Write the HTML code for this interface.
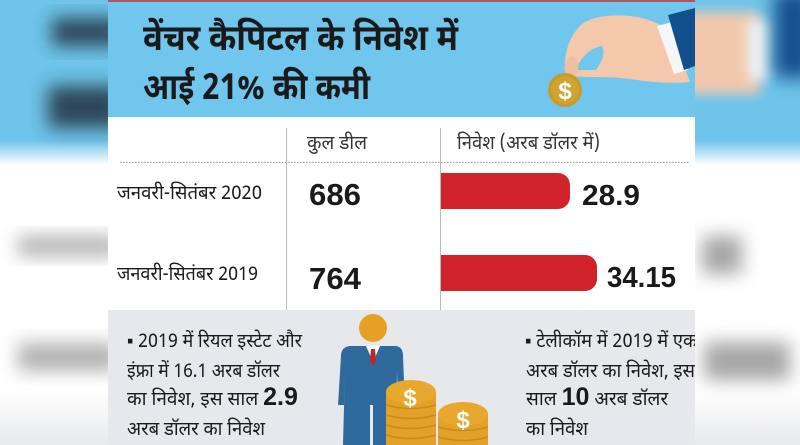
<!DOCTYPE html>
<html><head><meta charset="utf-8">
<style>
html,body{margin:0;padding:0;background:#fff;}
body{width:800px;height:445px;overflow:hidden;position:relative;}
svg{position:absolute;left:0;top:0;}
text{font-family:"Noto Sans Devanagari","Lohit Devanagari","Mukta","Liberation Sans",sans-serif;fill:#1a1a1a;}
</style></head>
<body>
<svg width="800" height="445" viewBox="0 0 800 445">
<defs>
<clipPath id="cp"><rect x="108" y="0" width="587" height="445"/></clipPath>
<clipPath id="cl"><rect x="0" y="0" width="108" height="445"/></clipPath>
<clipPath id="cr"><rect x="695" y="0" width="105" height="445"/></clipPath>
<filter id="bl" x="-50%" y="-50%" width="200%" height="200%"><feGaussianBlur stdDeviation="9"/></filter>
<filter id="bs" x="-50%" y="-50%" width="200%" height="200%"><feGaussianBlur stdDeviation="6"/></filter>
<linearGradient id="gl" x1="0" y1="0" x2="0" y2="1">
<stop offset="0" stop-color="#6ec4ea"/><stop offset="0.315" stop-color="#6ec4ea"/><stop offset="0.37" stop-color="#ffffff"/><stop offset="0.875" stop-color="#ffffff"/><stop offset="1" stop-color="#e8e9eb"/>
</linearGradient>
</defs>

<!-- left blurred side -->
<g clip-path="url(#cl)">
<rect x="0" y="0" width="108" height="445" fill="url(#gl)"/>
<rect x="52" y="18" width="70" height="28" fill="#22323c" opacity="0.85" filter="url(#bl)"/>
<rect x="48" y="86" width="74" height="42" fill="#22323c" opacity="0.85" filter="url(#bl)"/>
<rect x="18" y="236" width="100" height="20" fill="#888" opacity="0.65" filter="url(#bl)"/>
<rect x="18" y="343" width="100" height="28" fill="#888" opacity="0.65" filter="url(#bl)"/>
</g>
<!-- right blurred side -->
<g clip-path="url(#cr)">
<rect x="695" y="0" width="105" height="445" fill="url(#gl)"/>
<rect x="680" y="12" width="80" height="82" fill="#f2c8ac" filter="url(#bs)"/>
<rect x="748" y="20" width="22" height="60" fill="#eef3f6" filter="url(#bs)"/>
<rect x="774" y="-10" width="40" height="88" fill="#124f8e" filter="url(#bl)"/>
<rect x="702" y="236" width="40" height="38" fill="#777" opacity="0.65" filter="url(#bl)"/>
<rect x="704" y="342" width="86" height="38" fill="#777" opacity="0.65" filter="url(#bl)"/>
</g>

<g clip-path="url(#cp)">
<rect x="108" y="0" width="587" height="445" fill="#ffffff"/>
<rect x="108" y="0" width="587" height="117" fill="#70c6ec"/>
<rect x="108" y="0" width="587" height="2" fill="#a85a5e"/>
<rect x="108" y="310" width="587" height="135" fill="#e6e8eb"/>

<!-- hand -->
<path d="M566 74 C562 56 570 32 585 22 C600 14 625 14 642 18 C654 21 662 26 670 28 L690 82 C672 84 650 82 630 79 C610 76 590 78 572 76 Z" fill="#f4c8ab"/>
<path d="M576 70 C580 58 590 48 602 46 C606 56 600 64 596 70 Z" fill="#70c6ec"/>
<path d="M566 74 C562 66 566 58 573 56 C580 60 580 68 575 76 Z" fill="#f0bea0"/>
<polygon points="657,26 672,22 688,70 674,74" fill="#f5f6f8"/>
<polygon points="668,15 695,8 695,66 684,70" fill="#124f8e"/>
<circle cx="565" cy="90" r="17" fill="#c89a2a"/>
<circle cx="565" cy="90" r="14" fill="#d0a430"/>
<text x="565" y="99" text-anchor="middle" font-size="24" font-weight="bold" style="fill:#fff;font-family:'Liberation Sans',sans-serif">$</text>

<!-- title -->
<text x="143" y="50" font-size="36" font-weight="bold" textLength="315" lengthAdjust="spacingAndGlyphs">वेंचर कैपिटल के निवेश में</text>
<text x="143" y="99" font-size="36" font-weight="bold" textLength="227" lengthAdjust="spacingAndGlyphs">आई 21% की कमी</text>

<!-- table -->
<line x1="286.5" y1="128" x2="286.5" y2="310" stroke="#b8b8b8" stroke-width="1"/>
<line x1="440.5" y1="128" x2="440.5" y2="310" stroke="#b8b8b8" stroke-width="1"/>
<line x1="120" y1="162.5" x2="690" y2="162.5" stroke="#9a9a9a" stroke-width="1" stroke-dasharray="1.5,1.5"/>
<text x="307" y="149" font-size="19" textLength="60" lengthAdjust="spacingAndGlyphs" style="fill:#333">कुल डील</text>
<text x="457" y="149" font-size="19" textLength="143" lengthAdjust="spacingAndGlyphs" style="fill:#333">निवेश  (अरब डॉलर में)</text>
<text x="117" y="199" font-size="19" textLength="145" lengthAdjust="spacingAndGlyphs">जनवरी-सितंबर 2020</text>
<text x="117" y="280" font-size="19" textLength="141" lengthAdjust="spacingAndGlyphs">जनवरी-सितंबर 2019</text>
<text x="309" y="205" font-size="31" font-weight="bold" textLength="52" lengthAdjust="spacingAndGlyphs" style="font-family:'Liberation Sans',sans-serif">686</text>
<text x="309" y="289" font-size="31" font-weight="bold" textLength="52" lengthAdjust="spacingAndGlyphs" style="font-family:'Liberation Sans',sans-serif">764</text>
<path d="M441 173 H558 A12 12 0 0 1 570 185 V197 A12 12 0 0 1 558 209 H441 Z" fill="#d1232b"/>
<path d="M441 255 H585 A12 12 0 0 1 597 267 V279 A12 12 0 0 1 585 291 H441 Z" fill="#d1232b"/>
<text x="582" y="205" font-size="29" font-weight="bold" textLength="58" lengthAdjust="spacingAndGlyphs" style="font-family:'Liberation Sans',sans-serif">28.9</text>
<text x="607" y="287" font-size="29" font-weight="bold" textLength="69" lengthAdjust="spacingAndGlyphs" style="font-family:'Liberation Sans',sans-serif">34.15</text>

<!-- person -->
<circle cx="373" cy="328" r="14" fill="#e6a124"/>
<path d="M350 346 L396 346 Q403 347 403 356 L405 405 L398 405 L397 370 L396 445 L343 445 L345 370 L344 405 L338 405 L341 356 Q341 347 350 346 Z" fill="#2e6b9c"/>
<rect x="370" y="405" width="3" height="40" fill="#e6e8eb"/>
<polygon points="366,346 380,346 373,362" fill="#ffffff"/>
<polygon points="371,349 375,349 376,360 373,366 370,360" fill="#c0262d"/>

<!-- coins stack 1 -->
<g>
<rect x="386" y="392" width="50" height="60" fill="#e3a12a"/>
<g stroke="#c98a1c" stroke-width="1.5" fill="none">
<path d="M386 405 Q411 412 436 405"/><path d="M386 415 Q411 422 436 415"/><path d="M386 425 Q411 432 436 425"/><path d="M386 435 Q411 442 436 435"/>
</g>
<ellipse cx="411" cy="392" rx="25" ry="12" fill="#e7a82d"/>
<text x="410" y="406" text-anchor="middle" font-size="24" font-weight="bold" style="fill:#fff;font-family:'Liberation Sans',sans-serif">$</text>
</g>
<!-- coins stack 2 -->
<g>
<rect x="438" y="414" width="50" height="40" fill="#e3a12a"/>
<g stroke="#c98a1c" stroke-width="1.5" fill="none">
<path d="M438 427 Q463 434 488 427"/><path d="M438 437 Q463 444 488 437"/>
</g>
<ellipse cx="463" cy="414" rx="25" ry="12" fill="#e7a82d"/>
<text x="463" y="428" text-anchor="middle" font-size="24" font-weight="bold" style="fill:#fff;font-family:'Liberation Sans',sans-serif">$</text>
</g>

<!-- notes left -->
<text x="127" y="347" font-size="19" textLength="175" lengthAdjust="spacingAndGlyphs">▪ 2019 में रियल इस्टेट और</text>
<text x="127" y="377" font-size="19" textLength="153" lengthAdjust="spacingAndGlyphs">इंफ्रा में 16.1 अरब डॉलर</text>
<text x="127" y="405" font-size="19">का निवेश, इस साल <tspan font-weight="bold" font-size="25" style="font-family:'Liberation Sans',sans-serif">2.9</tspan></text>
<text x="127" y="435" font-size="19" textLength="138" lengthAdjust="spacingAndGlyphs">अरब डॉलर का निवेश</text>

<!-- notes right -->
<text x="525" y="347" font-size="19" textLength="172" lengthAdjust="spacingAndGlyphs">▪ टेलीकॉम में 2019 में एक</text>
<text x="526" y="377" font-size="19" textLength="169" lengthAdjust="spacingAndGlyphs">अरब डॉलर का निवेश, इस</text>
<text x="526" y="405" font-size="19">साल <tspan font-weight="bold" font-size="25" style="font-family:'Liberation Sans',sans-serif">10</tspan> अरब डॉलर</text>
<text x="526" y="435" font-size="19" textLength="62" lengthAdjust="spacingAndGlyphs">का निवेश</text>
</g>
</svg>
</body></html>
